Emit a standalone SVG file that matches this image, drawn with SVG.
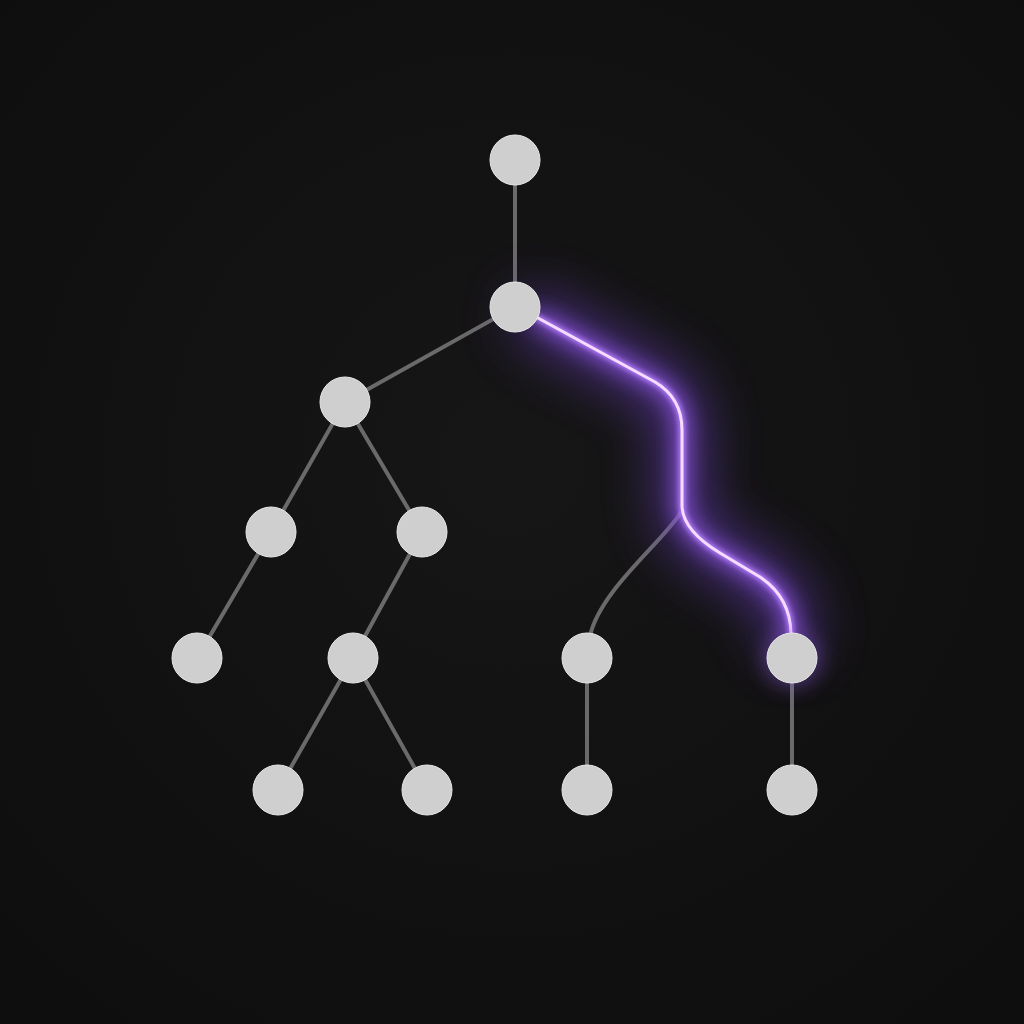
<svg xmlns="http://www.w3.org/2000/svg" width="1024" height="1024" viewBox="0 0 1024 1024">
<defs>
<radialGradient id="bg" cx="50%" cy="45%" r="70%">
<stop offset="0" stop-color="#161616"/>
<stop offset="1" stop-color="#0e0e0e"/>
</radialGradient>
<filter id="glowWide" x="-50%" y="-50%" width="200%" height="200%">
<feGaussianBlur stdDeviation="26"/>
</filter>
<filter id="glow" x="-50%" y="-50%" width="200%" height="200%">
<feGaussianBlur stdDeviation="10"/>
</filter>
<filter id="glow2" x="-50%" y="-50%" width="200%" height="200%">
<feGaussianBlur stdDeviation="2.5"/>
</filter>
<filter id="nodeGlow" x="-100%" y="-100%" width="300%" height="300%">
<feGaussianBlur stdDeviation="10"/>
</filter>
<path id="hp" d="M538 318 L 655 382 Q 682 398 682 430 L 682 505 Q 682 530 720 553 L 760 577 Q 790 597 791 633"/>
</defs>
<style>
.edge{fill:none;stroke:#6a6a6a;stroke-width:4;stroke-linecap:round}
.node{fill:#cfcfcf;stroke:#e8e8e8;stroke-width:1}
</style>
<rect width="1024" height="1024" fill="url(#bg)"/>
<g id="connectors">
<line class="edge" x1="515" y1="160" x2="515" y2="307"/>
<line class="edge" x1="515" y1="307" x2="345" y2="402"/>
<line class="edge" x1="345" y1="402" x2="271" y2="532"/>
<line class="edge" x1="345" y1="402" x2="422" y2="532"/>
<line class="edge" x1="271" y1="532" x2="197" y2="658"/>
<line class="edge" x1="422" y1="532" x2="353" y2="658"/>
<line class="edge" x1="353" y1="658" x2="278" y2="790"/>
<line class="edge" x1="353" y1="658" x2="427" y2="790"/>
<line class="edge" x1="587" y1="658" x2="587" y2="790"/>
<line class="edge" x1="792" y1="658" x2="792" y2="790"/>
<path class="edge" d="M681 512 C 665 540, 600 590, 590 636"/>
<g id="highlight" fill="none" stroke-linecap="round">
<use href="#hp" stroke="#6a3fc0" stroke-width="50" filter="url(#glowWide)" opacity="0.6"/>
<use href="#hp" stroke="#9a5cf5" stroke-width="14" filter="url(#glow)" opacity="0.9"/>
<use href="#hp" stroke="#b07af8" stroke-width="7" filter="url(#glow2)"/>
<use href="#hp" stroke="#f6dcff" stroke-width="3"/>
</g>
</g>
<circle cx="792" cy="658" r="28" fill="#8a5ad8" opacity="0.5" filter="url(#nodeGlow)"/>
<g id="n0"><circle class="node" cx="515" cy="160" r="25"/></g>
<g id="n1"><circle class="node" cx="515" cy="307" r="25"/></g>
<g id="n2"><circle class="node" cx="345" cy="402" r="25"/></g>
<g id="n3"><circle class="node" cx="271" cy="532" r="25"/></g>
<g id="n4"><circle class="node" cx="422" cy="532" r="25"/></g>
<g id="n5"><circle class="node" cx="197" cy="658" r="25"/></g>
<g id="n6"><circle class="node" cx="353" cy="658" r="25"/></g>
<g id="n7"><circle class="node" cx="278" cy="790" r="25"/></g>
<g id="n8"><circle class="node" cx="427" cy="790" r="25"/></g>
<g id="n9"><circle class="node" cx="587" cy="658" r="25"/></g>
<g id="n10"><circle class="node" cx="587" cy="790" r="25"/></g>
<g id="n11"><circle class="node" cx="792" cy="658" r="25"/></g>
<g id="n12"><circle class="node" cx="792" cy="790" r="25"/></g>
</svg>
